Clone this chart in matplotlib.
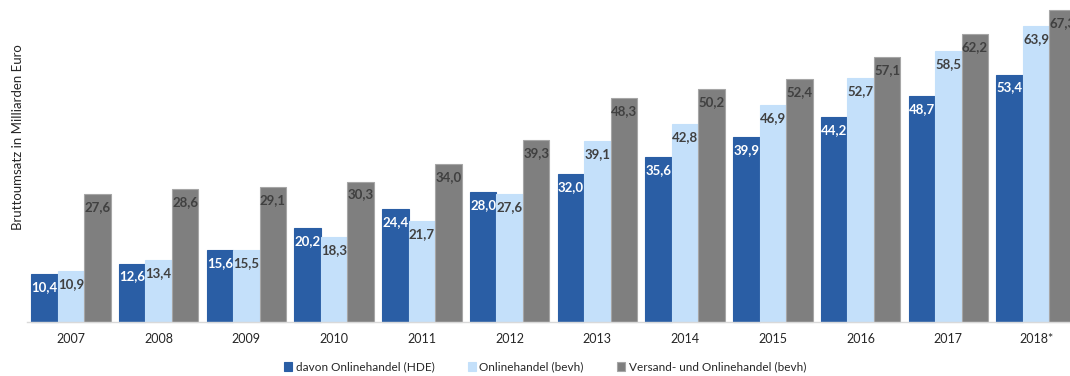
import numpy as np
import matplotlib
matplotlib.use("Agg")
import matplotlib.pyplot as plt

# DATA
years = ["2007", "2008", "2009", "2010", "2011", "2012", "2013", "2014", "2015", "2016", "2017", "2018*"]
hde_online = [10.4, 12.6, 15.6, 20.2, 24.4, 28.0, 32.0, 35.6, 39.9, 44.2, 48.7, 53.4]
bevh_online = [10.9, 13.4, 15.5, 18.3, 21.7, 27.6, 39.1, 42.8, 46.9, 52.7, 58.5, 63.9]
bevh_versand = [27.6, 28.6, 29.1, 30.3, 34.0, 39.3, 48.3, 50.2, 52.4, 57.1, 62.2, 67.3]

series_names = ["davon Onlinehandel (HDE)", "Onlinehandel (bevh)", "Versand- und Onlinehandel (bevh)"]
colors = ["#2a5ea5", "#c4e0fa", "#7f7f7f"]
edges = ["#2a5ea5", "#c4e0fa", "#a6a6a6"]
label_colors = ["white", "#404040", "#404040"]

plt.rcParams['font.family'] = ['Lato', 'DejaVu Sans']

fig = plt.figure(figsize=(10.7, 3.76), dpi=100)
# axes runs a bit past the right edge so the last bar is cut off
ax = fig.add_axes([27 / 1070, 54 / 376, 1053 / 1070, 322 / 376])

x = np.arange(len(years))
w = 0.302
for i, (vals, name) in enumerate(zip([hde_online, bevh_online, bevh_versand], series_names)):
    bars = ax.bar(x + (i - 1) * w, vals, w, color=colors[i], edgecolor=edges[i],
                  linewidth=0.8, label=name, clip_on=False)
    for b, v in zip(bars, vals):
        ax.annotate(f"{v:.1f}".replace(".", ","),
                    (b.get_x() + b.get_width() / 2, v),
                    xytext=(0, -5), textcoords="offset points",
                    ha="center", va="top", fontsize=9.5, fontweight="bold",
                    color=label_colors[i])

ax.set_xlim(-0.5, len(years) - 0.5)
ax.set_ylim(0, 69.5)
ax.set_xticks(x)
ax.set_xticklabels(years, fontsize=9, color="#262626")
ax.tick_params(axis="x", length=0, pad=8)
ax.set_yticks([])
for side in ["top", "right", "left"]:
    ax.spines[side].set_visible(False)
ax.spines["bottom"].set_color("#d9d9d9")
ax.spines["bottom"].set_linewidth(1.0)

fig.text(18 / 1070, 1 - 137 / 376, "Bruttoumsatz in Milliarden Euro", rotation=90,
         ha="center", va="center", fontsize=9.5, color="#262626")

handles, labels = ax.get_legend_handles_labels()
fig.legend(handles, labels, loc="center", bbox_to_anchor=(545 / 1070, 1 - 367 / 376),
           ncol=3, frameon=False, fontsize=8.5, handlelength=0.7, handleheight=0.7,
           handletextpad=0.3, columnspacing=2.8, labelcolor="#262626")

fig.savefig("out.png", dpi=100)
